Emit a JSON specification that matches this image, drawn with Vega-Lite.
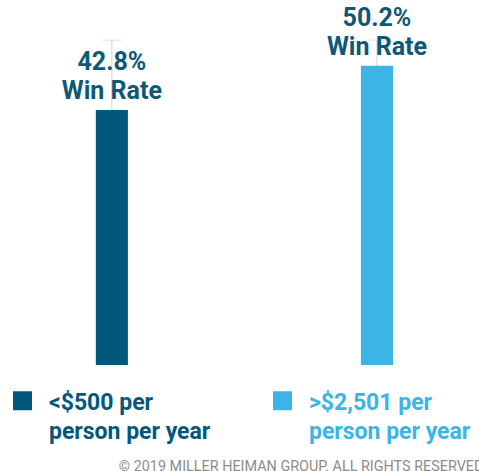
{
  "$schema": "https://vega.github.io/schema/vega-lite/v6.json",
  "width": 479,
  "height": 365,
  "autosize": {"type": "none"},
  "padding": {"left": 0, "top": 0, "right": 0, "bottom": 106},
  "background": "white",
  "config": {"view": {"stroke": null}, "style": {"guide-label": {"lineHeight": 29, "dy": -9}}},
  "data": {"values": [
    {"group": "<$500 per person per year", "rate": 0.428, "upper": 0.545},
    {"group": ">$2,501 per person per year", "rate": 0.502, "upper": 0.545}
  ]},
  "encoding": {
    "x": {
      "field": "group", "type": "nominal", "sort": null,
      "scale": {"paddingInner": 0.879, "paddingOuter": 0.343, "align": 0.527},
      "axis": {
        "labels": false, "ticks": false, "domain": false, "grid": false,
        "title": "© 2019 MILLER HEIMAN GROUP. ALL RIGHTS RESERVED",
        "titleAlign": "right", "titleAnchor": "end", "titleX": 483, "titleY": 105,
        "titleBaseline": "alphabetic", "titleFont": "Roboto", "titleFontWeight": "normal",
        "titleFontSize": 14.4, "titleColor": "#8c8c8c"
      }
    }
  },
  "layer": [
    {
      "mark": {"type": "rule", "color": "#cfd4d8", "strokeWidth": 1},
      "encoding": {
        "y": {"field": "rate", "type": "quantitative", "scale": {"domain": [0, 0.6124], "nice": false, "zero": true}, "axis": null},
        "y2": {"field": "upper"}
      }
    },
    {
      "mark": {"type": "tick", "color": "#cfd4d8", "thickness": 1, "size": 19},
      "encoding": {"y": {"field": "upper", "type": "quantitative", "axis": null}}
    },
    {
      "mark": {"type": "bar"},
      "encoding": {
        "y": {"field": "rate", "type": "quantitative", "axis": null},
        "color": {
          "field": "group", "type": "nominal",
          "scale": {"domain": ["<$500 per person per year", ">$2,501 per person per year"], "range": ["#02577a", "#3cb4e5"]},
          "legend": {
            "orient": "none", "legendX": 11, "legendY": 389, "direction": "horizontal", "columns": 2,
            "title": null, "padding": 0, "columnPadding": 60,
            "symbolType": "square", "symbolSize": 361, "symbolStrokeWidth": 0, "symbolOpacity": 1,
            "labelFont": "Roboto", "labelFontSize": 23, "labelFontWeight": "bold", "labelOffset": 15, "labelLimit": 400,
            "labelBaseline": "top",
            "labelExpr": "datum.value == '<$500 per person per year' ? ['<$500 per', 'person per year'] : ['>$2,501 per', 'person per year']",
            "labelColor": {"expr": "datum.value == '<$500 per person per year' ? '#02577a' : '#3cb4e5'"}
          }
        }
      }
    },
    {
      "mark": {"type": "text", "font": "Roboto", "fontWeight": "bold", "fontSize": 25, "color": "#0e5877", "dy": -40, "baseline": "alphabetic"},
      "encoding": {
        "y": {"field": "rate", "type": "quantitative", "axis": null},
        "text": {"field": "rate", "type": "quantitative", "format": ".1%"}
      }
    },
    {
      "mark": {"type": "text", "font": "Roboto", "fontWeight": "bold", "fontSize": 25, "color": "#0e5877", "dy": -11, "baseline": "alphabetic", "text": "Win Rate"},
      "encoding": {"y": {"field": "rate", "type": "quantitative", "axis": null}}
    }
  ]
}
